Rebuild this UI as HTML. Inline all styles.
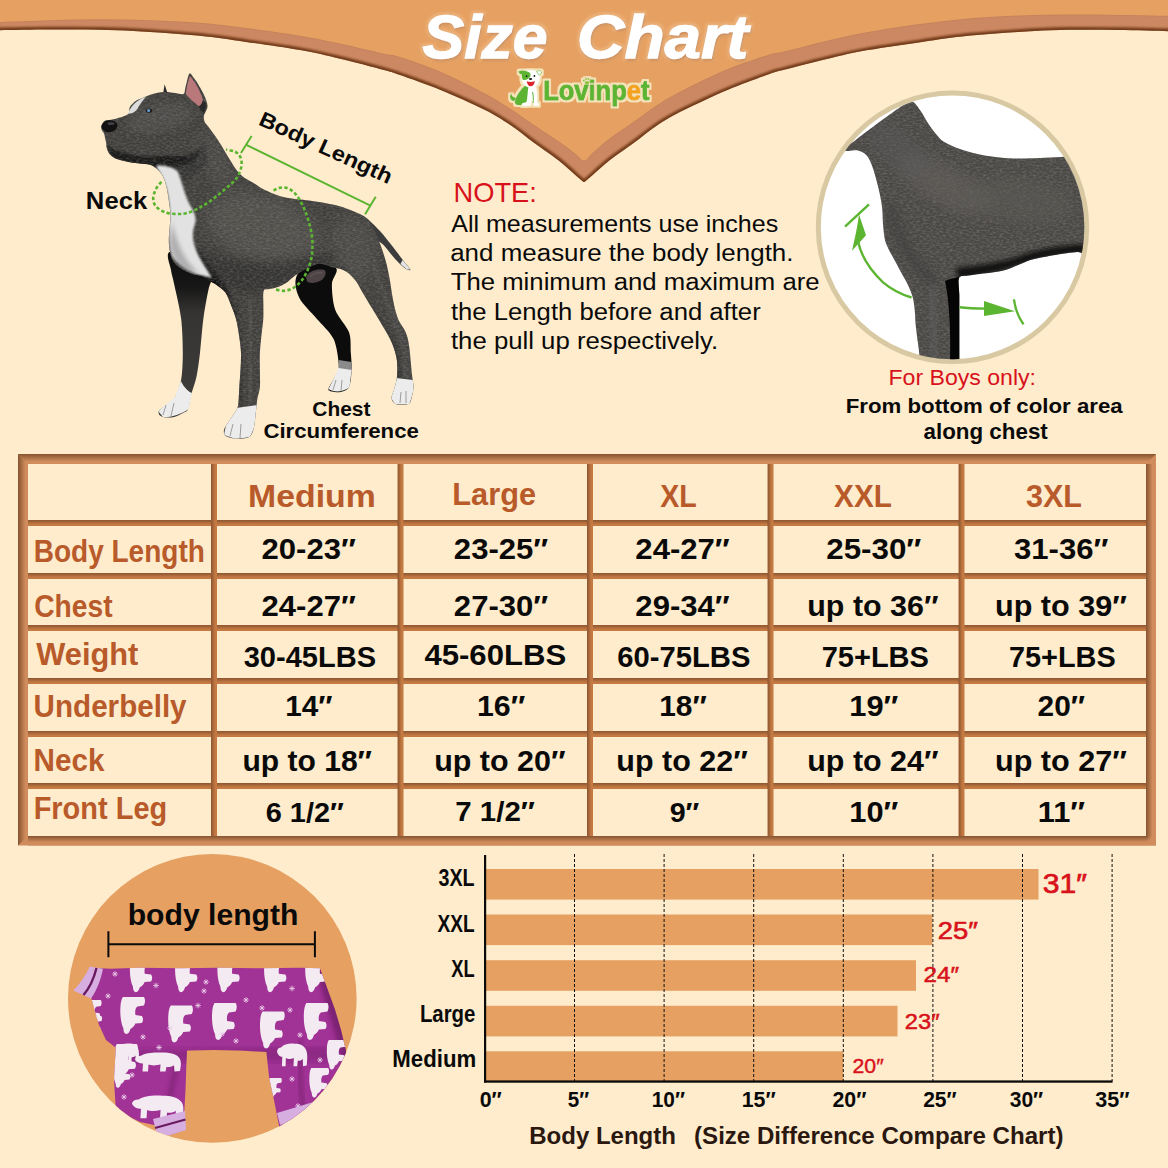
<!DOCTYPE html>
<html><head><meta charset="utf-8"><title>Size Chart</title>
<style>
html,body{margin:0;padding:0;background:#feeccc;}
body{width:1168px;height:1168px;overflow:hidden;font-family:"Liberation Sans",sans-serif;}
svg{display:block;}
text{font-family:"Liberation Sans",sans-serif;}
</style></head><body>
<svg width="1168" height="1168" viewBox="0 0 1168 1168">
<rect width="1168" height="1168" fill="#feeccc"/>

<defs>
<filter id="bandsh" x="-5%" y="-20%" width="110%" height="150%"><feDropShadow dx="0" dy="1.2" stdDeviation="1.4" flood-color="#7a4a2a" flood-opacity=".55"/></filter>
<filter id="b12" x="-5%" y="-20%" width="110%" height="140%"><feGaussianBlur stdDeviation="1.3"/></filter>
<filter id="orsh" x="-5%" y="-20%" width="110%" height="150%"><feDropShadow dx="0" dy="0.6" stdDeviation="0.7" flood-color="#a86a40" flood-opacity=".35"/></filter>
<linearGradient id="gTop" x1="0" y1="0" x2="0" y2="1"><stop offset="0" stop-color="#85542f"/><stop offset=".75" stop-color="#d08c5c"/></linearGradient>
<linearGradient id="gLeft" x1="0" y1="0" x2="1" y2="0"><stop offset="0" stop-color="#85542f"/><stop offset=".75" stop-color="#d08c5c"/></linearGradient>
<linearGradient id="gRight" x1="0" y1="0" x2="1" y2="0"><stop offset="0" stop-color="#875430"/><stop offset=".65" stop-color="#d08c5c"/></linearGradient>
<linearGradient id="gBottom" x1="0" y1="0" x2="0" y2="1"><stop offset="0" stop-color="#875430"/><stop offset=".65" stop-color="#d08c5c"/></linearGradient>
<linearGradient id="gH" x1="0" y1="0" x2="0" y2="1"><stop offset="0" stop-color="#8c5430"/><stop offset=".7" stop-color="#c47a42"/></linearGradient>
<linearGradient id="gV" x1="0" y1="0" x2="1" y2="0"><stop offset="0" stop-color="#8c5430"/><stop offset=".7" stop-color="#c47a42"/></linearGradient>
<radialGradient id="gCorner" cx="1146" cy="836" r="9" gradientUnits="userSpaceOnUse"><stop offset="0" stop-color="#8a5632"/><stop offset=".65" stop-color="#d08c5c"/></radialGradient>
</defs>


<clipPath id="bandclip"><path d="M-10.0 30.3 C-8.3 30.3 -10.0 30.3 0.0 30.2 C10.0 30.1 33.3 29.7 50.0 29.6 C66.7 29.5 83.3 29.4 100.0 29.8 C116.7 30.2 133.3 30.9 150.0 31.9 C166.7 32.9 184.0 34.1 200.0 35.8 C216.0 37.5 229.3 39.5 246.0 41.9 C262.7 44.3 284.3 47.3 300.0 50.1 C315.7 52.9 326.0 55.4 340.0 58.7 C354.0 62.0 374.0 67.3 384.0 70.0 C394.0 72.7 390.7 71.7 400.0 75.0 C409.3 78.3 426.0 84.0 440.0 89.7 C454.0 95.4 472.3 103.6 484.0 109.4 C495.7 115.2 501.7 119.2 510.0 124.7 C518.3 130.2 525.8 136.7 534.0 142.7 C542.2 148.7 552.2 155.4 559.0 160.7 C565.8 166.0 570.9 171.1 575.0 174.7 C579.1 178.3 582.2 180.9 583.6 182.1 L584.4 182.1 C585.8 180.9 588.9 178.3 593.0 174.7 C597.1 171.1 602.2 166.0 609.0 160.7 C615.8 155.4 625.8 148.7 634.0 142.7 C642.2 136.7 649.7 130.2 658.0 124.7 C666.3 119.2 672.3 115.8 684.0 110.0 C695.7 104.2 714.0 95.6 728.0 89.7 C742.0 83.8 758.7 77.8 768.0 74.5 C777.3 71.2 774.0 72.4 784.0 69.8 C794.0 67.2 814.0 62.0 828.0 58.7 C842.0 55.4 852.3 52.9 868.0 50.1 C883.7 47.3 905.3 44.3 922.0 41.9 C938.7 39.5 952.0 37.5 968.0 35.8 C984.0 34.1 1001.3 32.9 1018.0 31.9 C1034.7 30.9 1051.3 30.1 1068.0 29.8 C1084.7 29.5 1101.3 29.8 1118.0 30.0 C1134.7 30.2 1158.0 31.0 1168.0 31.2 C1178.0 31.4 1176.3 31.4 1178.0 31.4 L1178 -10 L-10 -10 Z"/></clipPath>
<path d="M-10.0 30.3 C-8.3 30.3 -10.0 30.3 0.0 30.2 C10.0 30.1 33.3 29.7 50.0 29.6 C66.7 29.5 83.3 29.4 100.0 29.8 C116.7 30.2 133.3 30.9 150.0 31.9 C166.7 32.9 184.0 34.1 200.0 35.8 C216.0 37.5 229.3 39.5 246.0 41.9 C262.7 44.3 284.3 47.3 300.0 50.1 C315.7 52.9 326.0 55.4 340.0 58.7 C354.0 62.0 374.0 67.3 384.0 70.0 C394.0 72.7 390.7 71.7 400.0 75.0 C409.3 78.3 426.0 84.0 440.0 89.7 C454.0 95.4 472.3 103.6 484.0 109.4 C495.7 115.2 501.7 119.2 510.0 124.7 C518.3 130.2 525.8 136.7 534.0 142.7 C542.2 148.7 552.2 155.4 559.0 160.7 C565.8 166.0 570.9 171.1 575.0 174.7 C579.1 178.3 582.2 180.9 583.6 182.1 L584.4 182.1 C585.8 180.9 588.9 178.3 593.0 174.7 C597.1 171.1 602.2 166.0 609.0 160.7 C615.8 155.4 625.8 148.7 634.0 142.7 C642.2 136.7 649.7 130.2 658.0 124.7 C666.3 119.2 672.3 115.8 684.0 110.0 C695.7 104.2 714.0 95.6 728.0 89.7 C742.0 83.8 758.7 77.8 768.0 74.5 C777.3 71.2 774.0 72.4 784.0 69.8 C794.0 67.2 814.0 62.0 828.0 58.7 C842.0 55.4 852.3 52.9 868.0 50.1 C883.7 47.3 905.3 44.3 922.0 41.9 C938.7 39.5 952.0 37.5 968.0 35.8 C984.0 34.1 1001.3 32.9 1018.0 31.9 C1034.7 30.9 1051.3 30.1 1068.0 29.8 C1084.7 29.5 1101.3 29.8 1118.0 30.0 C1134.7 30.2 1158.0 31.0 1168.0 31.2 C1178.0 31.4 1176.3 31.4 1178.0 31.4 L1178 -10 L-10 -10 Z" fill="#cc8862"/>
<g clip-path="url(#bandclip)"><path d="M-10.0 30.3 C-8.3 30.3 -10.0 30.3 0.0 30.2 C10.0 30.1 33.3 29.7 50.0 29.6 C66.7 29.5 83.3 29.4 100.0 29.8 C116.7 30.2 133.3 30.9 150.0 31.9 C166.7 32.9 184.0 34.1 200.0 35.8 C216.0 37.5 229.3 39.5 246.0 41.9 C262.7 44.3 284.3 47.3 300.0 50.1 C315.7 52.9 326.0 55.4 340.0 58.7 C354.0 62.0 374.0 67.3 384.0 70.0 C394.0 72.7 390.7 71.7 400.0 75.0 C409.3 78.3 426.0 84.0 440.0 89.7 C454.0 95.4 472.3 103.6 484.0 109.4 C495.7 115.2 501.7 119.2 510.0 124.7 C518.3 130.2 525.8 136.7 534.0 142.7 C542.2 148.7 552.2 155.4 559.0 160.7 C565.8 166.0 570.9 171.1 575.0 174.7 C579.1 178.3 582.2 180.9 583.6 182.1 L584.4 182.1 C585.8 180.9 588.9 178.3 593.0 174.7 C597.1 171.1 602.2 166.0 609.0 160.7 C615.8 155.4 625.8 148.7 634.0 142.7 C642.2 136.7 649.7 130.2 658.0 124.7 C666.3 119.2 672.3 115.8 684.0 110.0 C695.7 104.2 714.0 95.6 728.0 89.7 C742.0 83.8 758.7 77.8 768.0 74.5 C777.3 71.2 774.0 72.4 784.0 69.8 C794.0 67.2 814.0 62.0 828.0 58.7 C842.0 55.4 852.3 52.9 868.0 50.1 C883.7 47.3 905.3 44.3 922.0 41.9 C938.7 39.5 952.0 37.5 968.0 35.8 C984.0 34.1 1001.3 32.9 1018.0 31.9 C1034.7 30.9 1051.3 30.1 1068.0 29.8 C1084.7 29.5 1101.3 29.8 1118.0 30.0 C1134.7 30.2 1158.0 31.0 1168.0 31.2 C1178.0 31.4 1176.3 31.4 1178.0 31.4" fill="none" stroke="#6e3819" stroke-width="5.5" filter="url(#b12)" opacity=".95"/></g>
<g filter="url(#orsh)"><path d="M-10.0 22.2 C-8.3 22.1 -10.0 22.2 0.0 21.9 C10.0 21.6 33.3 20.6 50.0 20.2 C66.7 19.8 83.3 19.2 100.0 19.2 C116.7 19.2 133.3 19.7 150.0 20.3 C166.7 20.9 184.0 21.5 200.0 22.8 C216.0 24.1 229.3 25.9 246.0 28.0 C262.7 30.1 284.3 33.1 300.0 35.7 C315.7 38.3 326.0 40.5 340.0 43.5 C354.0 46.5 374.0 51.5 384.0 53.7 C394.0 56.0 390.7 54.0 400.0 57.0 C409.3 60.0 426.0 65.5 440.0 71.5 C454.0 77.5 472.3 86.8 484.0 93.0 C495.7 99.2 501.7 103.2 510.0 108.5 C518.3 113.8 525.8 119.5 534.0 125.0 C542.2 130.5 552.2 136.8 559.0 141.5 C565.8 146.2 571.2 150.4 575.0 153.5 C578.8 156.6 580.8 159.1 582.0 160.2 L586.0 160.2 C587.2 158.9 589.2 156.0 593.0 152.5 C596.8 149.0 602.2 144.2 609.0 139.0 C615.8 133.8 625.8 127.2 634.0 121.5 C642.2 115.8 649.7 109.8 658.0 104.5 C666.3 99.2 672.3 95.6 684.0 89.7 C695.7 83.8 714.0 74.8 728.0 69.0 C742.0 63.2 758.7 57.9 768.0 55.0 C777.3 52.1 774.0 54.0 784.0 51.6 C794.0 49.2 814.0 43.8 828.0 40.5 C842.0 37.2 852.7 34.8 868.0 32.0 C883.3 29.2 903.3 26.2 920.0 24.0 C936.7 21.8 951.7 19.9 968.0 18.5 C984.3 17.1 1001.3 16.2 1018.0 15.6 C1034.7 14.9 1051.3 14.7 1068.0 14.6 C1084.7 14.5 1101.3 14.7 1118.0 14.9 C1134.7 15.1 1158.0 15.6 1168.0 15.8 C1178.0 16.0 1176.3 16.0 1178.0 16.0 L1178 -10 L-10 -10 Z" fill="#e6a162"/></g>

<rect x="18" y="454" width="1138" height="391.5" fill="#d08c5c"/>
<path d="M18 454 L1156 454 L1146 464 L28 464 Z" fill="url(#gTop)"/>
<path d="M18 454 L28 464 L28 836 L18 845.5 Z" fill="url(#gLeft)"/>
<rect x="28" y="464" width="1118" height="372" fill="#c27a44"/>
<rect x="1146" y="464" width="10" height="372" fill="url(#gRight)"/>
<rect x="28" y="836" width="1118" height="9.5" fill="url(#gBottom)"/>
<rect x="1146" y="836" width="10" height="9.5" fill="url(#gCorner)"/>
<rect x="28" y="520.0" width="1118" height="6.0" fill="url(#gH)"/>
<rect x="28" y="573.0" width="1118" height="6.0" fill="url(#gH)"/>
<rect x="28" y="625.0" width="1118" height="6.0" fill="url(#gH)"/>
<rect x="28" y="678.0" width="1118" height="6.0" fill="url(#gH)"/>
<rect x="28" y="731.0" width="1118" height="6.0" fill="url(#gH)"/>
<rect x="28" y="783.0" width="1118" height="6.0" fill="url(#gH)"/>
<rect x="211.0" y="464" width="6.0" height="372" fill="url(#gV)"/>
<rect x="397.5" y="464" width="6.0" height="372" fill="url(#gV)"/>
<rect x="587.0" y="464" width="6.0" height="372" fill="url(#gV)"/>
<rect x="767.5" y="464" width="6.0" height="372" fill="url(#gV)"/>
<rect x="958.5" y="464" width="6.0" height="372" fill="url(#gV)"/>
<rect x="28.0" y="464.0" width="183.0" height="56.0" fill="#feeccc"/>
<rect x="217.0" y="464.0" width="180.5" height="56.0" fill="#feeccc"/>
<rect x="403.5" y="464.0" width="183.5" height="56.0" fill="#feeccc"/>
<rect x="593.0" y="464.0" width="174.5" height="56.0" fill="#feeccc"/>
<rect x="773.5" y="464.0" width="185.0" height="56.0" fill="#feeccc"/>
<rect x="964.5" y="464.0" width="181.5" height="56.0" fill="#feeccc"/>
<rect x="28.0" y="526.0" width="183.0" height="47.0" fill="#feeccc"/>
<rect x="217.0" y="526.0" width="180.5" height="47.0" fill="#feeccc"/>
<rect x="403.5" y="526.0" width="183.5" height="47.0" fill="#feeccc"/>
<rect x="593.0" y="526.0" width="174.5" height="47.0" fill="#feeccc"/>
<rect x="773.5" y="526.0" width="185.0" height="47.0" fill="#feeccc"/>
<rect x="964.5" y="526.0" width="181.5" height="47.0" fill="#feeccc"/>
<rect x="28.0" y="579.0" width="183.0" height="46.0" fill="#feeccc"/>
<rect x="217.0" y="579.0" width="180.5" height="46.0" fill="#feeccc"/>
<rect x="403.5" y="579.0" width="183.5" height="46.0" fill="#feeccc"/>
<rect x="593.0" y="579.0" width="174.5" height="46.0" fill="#feeccc"/>
<rect x="773.5" y="579.0" width="185.0" height="46.0" fill="#feeccc"/>
<rect x="964.5" y="579.0" width="181.5" height="46.0" fill="#feeccc"/>
<rect x="28.0" y="631.0" width="183.0" height="47.0" fill="#feeccc"/>
<rect x="217.0" y="631.0" width="180.5" height="47.0" fill="#feeccc"/>
<rect x="403.5" y="631.0" width="183.5" height="47.0" fill="#feeccc"/>
<rect x="593.0" y="631.0" width="174.5" height="47.0" fill="#feeccc"/>
<rect x="773.5" y="631.0" width="185.0" height="47.0" fill="#feeccc"/>
<rect x="964.5" y="631.0" width="181.5" height="47.0" fill="#feeccc"/>
<rect x="28.0" y="684.0" width="183.0" height="47.0" fill="#feeccc"/>
<rect x="217.0" y="684.0" width="180.5" height="47.0" fill="#feeccc"/>
<rect x="403.5" y="684.0" width="183.5" height="47.0" fill="#feeccc"/>
<rect x="593.0" y="684.0" width="174.5" height="47.0" fill="#feeccc"/>
<rect x="773.5" y="684.0" width="185.0" height="47.0" fill="#feeccc"/>
<rect x="964.5" y="684.0" width="181.5" height="47.0" fill="#feeccc"/>
<rect x="28.0" y="737.0" width="183.0" height="46.0" fill="#feeccc"/>
<rect x="217.0" y="737.0" width="180.5" height="46.0" fill="#feeccc"/>
<rect x="403.5" y="737.0" width="183.5" height="46.0" fill="#feeccc"/>
<rect x="593.0" y="737.0" width="174.5" height="46.0" fill="#feeccc"/>
<rect x="773.5" y="737.0" width="185.0" height="46.0" fill="#feeccc"/>
<rect x="964.5" y="737.0" width="181.5" height="46.0" fill="#feeccc"/>
<rect x="28.0" y="789.0" width="183.0" height="47.0" fill="#feeccc"/>
<rect x="217.0" y="789.0" width="180.5" height="47.0" fill="#feeccc"/>
<rect x="403.5" y="789.0" width="183.5" height="47.0" fill="#feeccc"/>
<rect x="593.0" y="789.0" width="174.5" height="47.0" fill="#feeccc"/>
<rect x="773.5" y="789.0" width="185.0" height="47.0" fill="#feeccc"/>
<rect x="964.5" y="789.0" width="181.5" height="47.0" fill="#feeccc"/>
<rect x="486" y="869.0" width="552.5" height="30.6" fill="#e6a162"/>
<rect x="486" y="914.5" width="446.4" height="30.6" fill="#e6a162"/>
<rect x="486" y="960.2" width="430.0" height="30.6" fill="#e6a162"/>
<rect x="486" y="1005.8" width="411.5" height="30.6" fill="#e6a162"/>
<rect x="486" y="1051.3" width="357.3" height="30.6" fill="#e6a162"/>
<line x1="574.5" y1="854" x2="574.5" y2="1081" stroke="#111" stroke-width="1" stroke-dasharray="3 2"/>
<line x1="664.1" y1="854" x2="664.1" y2="1081" stroke="#111" stroke-width="1" stroke-dasharray="3 2"/>
<line x1="753.7" y1="854" x2="753.7" y2="1081" stroke="#111" stroke-width="1" stroke-dasharray="3 2"/>
<line x1="843.3" y1="854" x2="843.3" y2="1081" stroke="#111" stroke-width="1" stroke-dasharray="3 2"/>
<line x1="932.9" y1="854" x2="932.9" y2="1081" stroke="#111" stroke-width="1" stroke-dasharray="3 2"/>
<line x1="1022.5" y1="854" x2="1022.5" y2="1081" stroke="#111" stroke-width="1" stroke-dasharray="3 2"/>
<line x1="1112.1" y1="854" x2="1112.1" y2="1081" stroke="#111" stroke-width="1" stroke-dasharray="3 2"/>
<rect x="484" y="855" width="2.2" height="227.5" fill="#0a0a0a"/>
<rect x="484" y="1080.4" width="628.6" height="2.3" fill="#0a0a0a"/>

<defs>
<linearGradient id="ffleg" x1="0" y1="250" x2="0" y2="400" gradientUnits="userSpaceOnUse"><stop offset="0" stop-color="#0d0d0d"/><stop offset=".24" stop-color="#161616"/><stop offset=".42" stop-color="#353432"/><stop offset="1" stop-color="#3d3c3a"/></linearGradient>
<filter id="fur" x="0" y="0" width="100%" height="100%">
  <feTurbulence type="fractalNoise" baseFrequency="0.3 0.6" numOctaves="3" seed="7" result="n"/>
  <feColorMatrix in="n" type="matrix" values="0 0 0 0 0.46  0 0 0 0 0.45  0 0 0 0 0.43  1.5 0 0 0 -0.55" result="c"/>
  <feGaussianBlur in="c" stdDeviation="0.45"/>
</filter>
<filter id="blur1"><feGaussianBlur stdDeviation="0.8"/></filter>
<filter id="blur2"><feGaussianBlur stdDeviation="2"/></filter>
<filter id="blur4"><feGaussianBlur stdDeviation="4"/></filter>
<filter id="blur6"><feGaussianBlur stdDeviation="7"/></filter>
<filter id="titlesh" x="-5%" y="-20%" width="110%" height="150%">
  <feGaussianBlur in="SourceAlpha" stdDeviation="1.6" result="b"/>
  <feOffset in="b" dx="0.8" dy="2" result="o"/>
  <feFlood flood-color="#b06a35" flood-opacity=".6"/><feComposite in2="o" operator="in" result="sh"/>
  <feMorphology in="SourceAlpha" operator="dilate" radius="1.6" result="dil"/>
  <feGaussianBlur in="dil" stdDeviation="1.2" result="dilb"/>
  <feFlood flood-color="#f0c090" flood-opacity=".55"/><feComposite in2="dilb" operator="in" result="glow"/>
  <feMerge><feMergeNode in="glow"/><feMergeNode in="sh"/><feMergeNode in="SourceGraphic"/></feMerge>
</filter>
<filter id="halo" x="-10%" y="-20%" width="120%" height="140%">
  <feMorphology in="SourceAlpha" operator="dilate" radius="2" result="dil"/>
  <feGaussianBlur in="dil" stdDeviation="0.6" result="dilb"/>
  <feFlood flood-color="#f3e3b8" flood-opacity="1"/><feComposite in2="dilb" operator="in" result="glow"/>
  <feMerge><feMergeNode in="glow"/><feMergeNode in="SourceGraphic"/></feMerge>
</filter>
</defs>


<g font-family="Liberation Sans, sans-serif" font-weight="bold" font-style="italic" font-size="61.5" filter="url(#titlesh)" stroke="#ffffff" stroke-width="1.3" stroke-linejoin="round">
<text x="422.6" y="58.4" fill="#ffffff" textLength="125" lengthAdjust="spacingAndGlyphs">Size</text>
<text x="577" y="58.4" fill="#ffffff" textLength="171.5" lengthAdjust="spacingAndGlyphs">Chart</text>
</g>

<g filter="url(#halo)">
<path d="M516 98 C513 97 511 95.5 511.5 93.5 C509.5 95 509.5 98.5 512 100.5 C513.5 101.5 515.5 101 516 98 Z" fill="#5cb531"/>
<path d="M526 85 C521 89 516.5 95 515 101 C514.5 103 515.5 105 518 105 L530 105 C531 99 531 91 530.5 86 Z" fill="#5cb531"/>
<path d="M528.5 86 C527.5 92 527.5 98 526.5 102 L522 103.5 C521 105 522 106 524 106 L531 105.5 L531.5 100 L534 105.8 L538.5 105.8 C539.5 104.5 538.5 103 537 102.5 C537.5 96 537 90 535.5 86 Z" fill="#ffffff"/>
<path d="M532.5 92 C533.5 96 533.5 100 533 103" stroke="#5cb531" stroke-width="1" fill="none"/>
<path d="M521.5 75.5 C523 71.5 527 70 531 70.3 C535 70.3 538.5 71.5 539.5 75 C540.5 79 539 83.5 536 86 C533 88 528.5 88 525.5 86 C522.5 83.5 521 79.5 521.5 75.5 Z" fill="#ffffff"/>
<path d="M518.5 71.5 C521 70 524.5 70.5 527 71.5 C529.5 72 531 73.5 530.5 76 C529 79 526 80.5 523 80 C521.5 78 521.5 76 522 74.5 C520.5 74.5 519 73.5 518.5 71.5 Z" fill="#5cb531"/>
<path d="M536.5 71.5 C538.5 70.3 540.5 70.5 541.5 72 C541.3 73.8 540 74.8 538.8 75 Z" fill="#ffffff" stroke="#5cb531" stroke-width=".6"/>
<circle cx="526.6" cy="76.2" r=".9" fill="#1a1a1a"/><circle cx="534.4" cy="76" r=".9" fill="#1a1a1a"/>
<ellipse cx="530.6" cy="79" rx="1.6" ry="1.1" fill="#1a1a1a"/>
<path d="M526.8 81.2 C529 82.2 532.5 82.2 534.8 81 C534.5 84.5 532.5 86.2 530.8 86.2 C528.8 86.2 527 84.2 526.8 81.2 Z" fill="#d9202a"/>
</g>
<g filter="url(#halo)">
<text x="543.2" y="100.4" font-family="Liberation Sans, sans-serif" font-weight="bold" font-size="26.8" textLength="106.2" lengthAdjust="spacingAndGlyphs" stroke-width="0.9" stroke-linejoin="round"><tspan fill="#5cb531" stroke="#5cb531">Lovinp</tspan><tspan fill="#f3a31f" stroke="#f3a31f">e</tspan><tspan fill="#5cb531" stroke="#5cb531">t</tspan></text>
<ellipse cx="587" cy="82.8" rx="2.3" ry="1.8" fill="#8cc63f"/><circle cx="583.9" cy="80.5" r="1" fill="#8cc63f"/><circle cx="586" cy="79" r="1" fill="#8cc63f"/><circle cx="588.4" cy="79" r="1" fill="#8cc63f"/><circle cx="590.4" cy="80.6" r="1" fill="#8cc63f"/>
</g>
<path d="M169.5 252.0 C165.2 254.2 170.3 265.2 171.0 270.0 C171.7 274.8 172.7 276.9 174.2 284.2 C175.7 291.5 179.8 308.2 181.1 318.5 C182.4 328.8 182.8 343.5 182.8 352.7 C182.8 361.9 182.4 373.2 181.1 380.1 C179.8 387.0 176.6 395.1 174.2 399.0 C171.8 402.9 167.3 404.2 165.0 406.0 C162.7 407.8 159.6 409.6 158.8 411.0 C158.1 412.4 158.9 414.5 160.0 415.5 C161.1 416.5 163.9 417.3 166.0 417.5 C168.1 417.7 171.6 417.7 174.2 417.0 C176.8 416.3 180.9 414.2 183.0 413.0 C185.1 411.8 186.6 412.1 187.9 409.2 C189.2 406.3 190.1 398.7 191.4 393.8 C192.7 388.9 195.2 382.9 196.5 376.7 C197.8 370.5 199.0 361.4 200.0 352.7 C201.0 344.0 202.1 328.0 203.4 318.5 C204.7 309.0 206.9 296.7 208.5 289.4 C210.1 282.1 215.3 275.2 214.0 270.0 C212.7 264.8 206.7 257.7 200.0 255.0 C193.3 252.3 173.8 249.8 169.5 252.0 Z" fill="url(#ffleg)"/>
<path d="M296.0 278.0 C294.4 283.4 296.3 291.9 299.4 298.0 C302.5 304.1 311.4 312.4 316.5 318.5 C321.6 324.6 330.3 332.1 333.6 339.0 C336.9 345.9 338.4 359.3 338.8 364.7 C339.2 370.1 337.5 371.4 336.0 375.0 C334.5 378.6 329.1 386.2 328.5 388.7 C327.9 391.2 330.2 391.0 332.0 391.5 C333.8 392.0 337.9 392.8 340.5 392.1 C343.1 391.4 347.3 390.3 349.0 387.0 C350.7 383.7 351.3 375.0 351.6 369.9 C351.9 364.8 351.2 358.4 350.8 352.7 C350.4 347.0 351.3 338.6 349.0 332.2 C346.7 325.8 337.9 317.1 335.3 309.9 C332.7 302.7 331.8 290.5 331.9 284.2 C332.0 277.9 339.3 271.3 336.0 268.0 C332.7 264.7 316.0 260.5 310.0 262.0 C304.0 263.5 297.6 272.6 296.0 278.0 Z" fill="#0c0c0c"/>
<path d="M366.0 218.0 C366.5 217.1 376.4 227.1 380.0 231.0 C383.6 234.9 389.8 242.9 393.0 247.0 C396.2 251.1 401.7 258.5 404.0 261.5 C406.3 264.5 410.1 268.4 410.5 269.5 C410.9 270.6 408.3 270.1 407.0 269.5 C405.7 268.9 402.9 266.7 401.0 265.0 C399.1 263.3 395.3 259.1 393.0 256.5 C390.7 253.9 386.3 248.0 384.0 245.5 C381.7 243.0 378.4 241.7 376.0 238.0 C373.6 234.3 365.5 218.9 366.0 218.0 Z" fill="#3c3c3d"/>
<path d="M402.5 260 L410.5 269.5 L407 269.5 L400.5 264 Z" fill="#e4e4e4"/>
<path d="M101.2 126.5 C101.5 125.1 102.7 123.0 103.5 122.0 C104.3 121.0 104.6 120.8 106.3 120.3 C108.0 119.8 109.9 120.3 113.5 119.3 C117.1 118.3 125.2 116.2 127.9 114.2 C130.6 112.2 128.5 109.2 129.9 107.0 C131.3 104.8 133.7 102.4 136.1 100.8 C138.5 99.2 140.9 98.5 144.3 97.2 C147.7 95.9 153.0 93.9 156.6 93.1 C160.2 92.2 162.9 92.1 166.0 92.1 C169.1 92.1 172.2 92.8 175.1 93.1 C178.0 93.4 181.7 95.0 183.4 94.1 C185.1 93.2 184.7 90.0 185.4 87.5 C186.1 85.0 186.8 81.4 187.5 79.0 C188.2 76.6 188.8 73.5 189.8 73.3 C190.8 73.0 192.2 75.8 193.5 77.5 C194.8 79.2 195.8 80.2 197.7 83.4 C199.6 86.6 203.3 92.9 204.9 96.7 C206.5 100.5 207.4 103.5 207.5 106.0 C207.6 108.5 206.1 110.3 205.5 112.0 C204.9 113.7 204.1 114.4 203.9 116.0 C203.7 117.6 203.8 119.7 204.5 121.4 C205.2 123.2 206.4 124.1 208.2 126.5 C209.9 128.9 213.0 133.0 215.0 135.8 C217.0 138.7 217.6 139.6 220.1 143.6 C222.6 147.6 227.1 155.4 230.0 160.0 C232.9 164.6 235.0 168.1 237.3 171.0 C239.6 173.9 241.4 175.6 244.0 177.5 C246.6 179.4 249.7 180.7 252.7 182.5 C255.7 184.3 258.4 186.6 262.0 188.5 C265.6 190.4 269.9 192.4 274.0 194.0 C278.1 195.6 282.2 196.9 286.5 197.8 C290.8 198.7 295.7 199.1 300.0 199.6 C304.3 200.1 307.9 200.4 312.2 201.0 C316.5 201.6 321.4 202.3 326.0 203.2 C330.6 204.1 334.9 204.8 339.6 206.2 C344.3 207.6 349.4 209.4 354.0 211.5 C358.6 213.6 363.5 215.1 367.0 218.5 C370.5 221.9 372.8 227.6 375.0 232.0 C377.2 236.4 378.7 240.0 380.5 245.0 C382.3 250.0 384.5 256.5 386.0 262.0 C387.5 267.5 388.5 272.9 389.5 278.0 C390.5 283.1 391.0 288.0 391.8 292.8 C392.6 297.6 393.4 302.5 394.5 307.0 C395.6 311.5 396.9 316.3 398.5 320.0 C400.1 323.7 402.5 326.1 404.0 329.0 C405.5 331.9 406.6 334.2 407.5 337.5 C408.4 340.8 409.0 345.0 409.5 349.0 C410.0 353.0 410.3 357.0 410.7 361.3 C411.1 365.6 411.5 370.7 412.0 375.0 C412.5 379.3 413.5 383.5 413.5 387.0 C413.5 390.5 412.7 393.2 412.0 396.0 C411.3 398.8 411.0 402.1 409.3 403.5 C407.6 404.9 404.3 404.4 402.0 404.5 C399.7 404.6 397.1 404.9 395.3 403.8 C393.6 402.7 391.6 400.6 391.5 398.0 C391.4 395.4 393.6 391.6 394.5 388.0 C395.4 384.4 396.6 381.1 397.0 376.7 C397.4 372.2 397.4 365.8 397.0 361.3 C396.6 356.9 395.6 353.7 394.5 350.0 C393.4 346.3 391.8 342.5 390.1 339.0 C388.4 335.5 386.5 332.4 384.5 329.0 C382.5 325.6 380.6 322.5 378.2 318.5 C375.8 314.5 372.6 309.3 370.0 305.0 C367.4 300.7 365.1 296.8 362.7 292.8 C360.3 288.8 358.5 284.5 355.9 281.0 C353.3 277.5 349.8 274.1 347.0 272.0 C344.2 269.9 341.4 269.2 339.0 268.5 C336.6 267.8 334.9 268.1 332.7 267.5 C330.5 266.9 328.3 265.6 326.0 265.0 C323.7 264.4 322.0 263.3 319.0 263.8 C316.0 264.3 312.0 266.1 308.0 268.0 C304.0 269.9 298.8 273.0 295.1 275.5 C291.4 278.0 289.0 281.1 286.0 283.0 C283.0 284.9 280.0 286.2 277.0 287.2 C274.0 288.2 270.2 288.6 268.0 289.2 C265.8 289.8 264.4 288.4 263.6 291.0 C262.8 293.6 263.4 300.4 263.4 305.0 C263.3 309.6 263.6 313.5 263.3 318.5 C263.0 323.5 262.1 329.3 261.5 335.0 C260.9 340.7 260.2 346.9 259.9 352.7 C259.6 358.5 259.9 364.3 259.9 370.0 C259.9 375.7 260.3 382.3 259.9 387.0 C259.5 391.7 258.1 394.6 257.5 398.0 C256.9 401.4 256.7 404.7 256.4 407.5 C256.1 410.3 255.8 412.4 255.5 415.0 C255.2 417.6 255.1 420.3 254.7 423.0 C254.3 425.7 253.8 428.7 253.0 431.0 C252.2 433.3 251.3 435.6 249.6 436.8 C247.9 438.1 245.3 438.2 243.0 438.5 C240.7 438.8 238.2 438.8 235.9 438.6 C233.7 438.4 231.4 438.1 229.5 437.5 C227.6 436.9 225.5 436.1 224.6 434.9 C223.7 433.6 223.7 431.6 224.0 430.0 C224.3 428.4 225.1 427.3 226.5 425.0 C227.9 422.7 230.7 418.9 232.5 416.0 C234.3 413.1 236.5 410.7 237.6 407.5 C238.7 404.3 238.5 400.4 238.8 397.0 C239.1 393.6 239.0 391.5 239.3 387.0 C239.6 382.5 240.2 375.7 240.5 370.0 C240.8 364.3 241.2 358.5 241.0 352.7 C240.8 346.9 239.8 340.7 239.0 335.0 C238.2 329.3 237.2 323.5 235.9 318.5 C234.6 313.5 232.7 309.3 231.0 305.0 C229.3 300.7 227.8 296.0 225.6 292.8 C223.4 289.6 220.6 288.0 218.0 286.0 C215.4 284.0 212.5 282.6 210.0 281.0 C207.5 279.4 206.0 277.7 203.0 276.5 C200.0 275.3 195.8 275.4 192.0 274.0 C188.2 272.6 183.2 270.2 180.0 268.0 C176.8 265.8 174.7 263.7 173.0 261.0 C171.3 258.3 170.7 255.3 170.0 252.0 C169.3 248.7 168.9 245.2 168.8 241.2 C168.7 237.2 169.3 232.3 169.6 228.0 C169.9 223.7 170.6 219.8 170.5 215.5 C170.4 211.2 169.6 206.3 169.0 202.0 C168.4 197.7 167.8 193.6 167.1 189.9 C166.3 186.2 165.6 182.9 164.5 180.0 C163.4 177.1 162.1 174.8 160.5 172.7 C158.9 170.6 156.8 168.8 155.0 167.5 C153.2 166.2 152.4 165.5 149.9 164.8 C147.4 164.1 143.2 163.9 140.0 163.5 C136.8 163.1 134.0 163.0 131.0 162.5 C128.0 162.0 124.6 161.2 122.0 160.5 C119.4 159.8 117.4 159.3 115.5 158.4 C113.6 157.5 111.8 156.2 110.5 155.0 C109.2 153.8 108.7 152.8 108.0 151.5 C107.3 150.2 106.8 148.4 106.5 147.0 C106.2 145.6 106.5 144.5 106.3 143.0 C106.0 141.5 105.3 139.6 105.0 138.0 C104.7 136.4 104.7 134.9 104.2 133.7 C103.7 132.4 102.5 131.7 102.0 130.5 C101.5 129.3 101.0 127.9 101.2 126.5 Z" fill="#403f3c"/>
<path d="M163.3 92.6 L164.6 84.2 L167.3 92.4 Z" fill="#2c2c2c"/>
<clipPath id="dogclip"><path d="M101.2 126.5 C101.5 125.1 102.7 123.0 103.5 122.0 C104.3 121.0 104.6 120.8 106.3 120.3 C108.0 119.8 109.9 120.3 113.5 119.3 C117.1 118.3 125.2 116.2 127.9 114.2 C130.6 112.2 128.5 109.2 129.9 107.0 C131.3 104.8 133.7 102.4 136.1 100.8 C138.5 99.2 140.9 98.5 144.3 97.2 C147.7 95.9 153.0 93.9 156.6 93.1 C160.2 92.2 162.9 92.1 166.0 92.1 C169.1 92.1 172.2 92.8 175.1 93.1 C178.0 93.4 181.7 95.0 183.4 94.1 C185.1 93.2 184.7 90.0 185.4 87.5 C186.1 85.0 186.8 81.4 187.5 79.0 C188.2 76.6 188.8 73.5 189.8 73.3 C190.8 73.0 192.2 75.8 193.5 77.5 C194.8 79.2 195.8 80.2 197.7 83.4 C199.6 86.6 203.3 92.9 204.9 96.7 C206.5 100.5 207.4 103.5 207.5 106.0 C207.6 108.5 206.1 110.3 205.5 112.0 C204.9 113.7 204.1 114.4 203.9 116.0 C203.7 117.6 203.8 119.7 204.5 121.4 C205.2 123.2 206.4 124.1 208.2 126.5 C209.9 128.9 213.0 133.0 215.0 135.8 C217.0 138.7 217.6 139.6 220.1 143.6 C222.6 147.6 227.1 155.4 230.0 160.0 C232.9 164.6 235.0 168.1 237.3 171.0 C239.6 173.9 241.4 175.6 244.0 177.5 C246.6 179.4 249.7 180.7 252.7 182.5 C255.7 184.3 258.4 186.6 262.0 188.5 C265.6 190.4 269.9 192.4 274.0 194.0 C278.1 195.6 282.2 196.9 286.5 197.8 C290.8 198.7 295.7 199.1 300.0 199.6 C304.3 200.1 307.9 200.4 312.2 201.0 C316.5 201.6 321.4 202.3 326.0 203.2 C330.6 204.1 334.9 204.8 339.6 206.2 C344.3 207.6 349.4 209.4 354.0 211.5 C358.6 213.6 363.5 215.1 367.0 218.5 C370.5 221.9 372.8 227.6 375.0 232.0 C377.2 236.4 378.7 240.0 380.5 245.0 C382.3 250.0 384.5 256.5 386.0 262.0 C387.5 267.5 388.5 272.9 389.5 278.0 C390.5 283.1 391.0 288.0 391.8 292.8 C392.6 297.6 393.4 302.5 394.5 307.0 C395.6 311.5 396.9 316.3 398.5 320.0 C400.1 323.7 402.5 326.1 404.0 329.0 C405.5 331.9 406.6 334.2 407.5 337.5 C408.4 340.8 409.0 345.0 409.5 349.0 C410.0 353.0 410.3 357.0 410.7 361.3 C411.1 365.6 411.5 370.7 412.0 375.0 C412.5 379.3 413.5 383.5 413.5 387.0 C413.5 390.5 412.7 393.2 412.0 396.0 C411.3 398.8 411.0 402.1 409.3 403.5 C407.6 404.9 404.3 404.4 402.0 404.5 C399.7 404.6 397.1 404.9 395.3 403.8 C393.6 402.7 391.6 400.6 391.5 398.0 C391.4 395.4 393.6 391.6 394.5 388.0 C395.4 384.4 396.6 381.1 397.0 376.7 C397.4 372.2 397.4 365.8 397.0 361.3 C396.6 356.9 395.6 353.7 394.5 350.0 C393.4 346.3 391.8 342.5 390.1 339.0 C388.4 335.5 386.5 332.4 384.5 329.0 C382.5 325.6 380.6 322.5 378.2 318.5 C375.8 314.5 372.6 309.3 370.0 305.0 C367.4 300.7 365.1 296.8 362.7 292.8 C360.3 288.8 358.5 284.5 355.9 281.0 C353.3 277.5 349.8 274.1 347.0 272.0 C344.2 269.9 341.4 269.2 339.0 268.5 C336.6 267.8 334.9 268.1 332.7 267.5 C330.5 266.9 328.3 265.6 326.0 265.0 C323.7 264.4 322.0 263.3 319.0 263.8 C316.0 264.3 312.0 266.1 308.0 268.0 C304.0 269.9 298.8 273.0 295.1 275.5 C291.4 278.0 289.0 281.1 286.0 283.0 C283.0 284.9 280.0 286.2 277.0 287.2 C274.0 288.2 270.2 288.6 268.0 289.2 C265.8 289.8 264.4 288.4 263.6 291.0 C262.8 293.6 263.4 300.4 263.4 305.0 C263.3 309.6 263.6 313.5 263.3 318.5 C263.0 323.5 262.1 329.3 261.5 335.0 C260.9 340.7 260.2 346.9 259.9 352.7 C259.6 358.5 259.9 364.3 259.9 370.0 C259.9 375.7 260.3 382.3 259.9 387.0 C259.5 391.7 258.1 394.6 257.5 398.0 C256.9 401.4 256.7 404.7 256.4 407.5 C256.1 410.3 255.8 412.4 255.5 415.0 C255.2 417.6 255.1 420.3 254.7 423.0 C254.3 425.7 253.8 428.7 253.0 431.0 C252.2 433.3 251.3 435.6 249.6 436.8 C247.9 438.1 245.3 438.2 243.0 438.5 C240.7 438.8 238.2 438.8 235.9 438.6 C233.7 438.4 231.4 438.1 229.5 437.5 C227.6 436.9 225.5 436.1 224.6 434.9 C223.7 433.6 223.7 431.6 224.0 430.0 C224.3 428.4 225.1 427.3 226.5 425.0 C227.9 422.7 230.7 418.9 232.5 416.0 C234.3 413.1 236.5 410.7 237.6 407.5 C238.7 404.3 238.5 400.4 238.8 397.0 C239.1 393.6 239.0 391.5 239.3 387.0 C239.6 382.5 240.2 375.7 240.5 370.0 C240.8 364.3 241.2 358.5 241.0 352.7 C240.8 346.9 239.8 340.7 239.0 335.0 C238.2 329.3 237.2 323.5 235.9 318.5 C234.6 313.5 232.7 309.3 231.0 305.0 C229.3 300.7 227.8 296.0 225.6 292.8 C223.4 289.6 220.6 288.0 218.0 286.0 C215.4 284.0 212.5 282.6 210.0 281.0 C207.5 279.4 206.0 277.7 203.0 276.5 C200.0 275.3 195.8 275.4 192.0 274.0 C188.2 272.6 183.2 270.2 180.0 268.0 C176.8 265.8 174.7 263.7 173.0 261.0 C171.3 258.3 170.7 255.3 170.0 252.0 C169.3 248.7 168.9 245.2 168.8 241.2 C168.7 237.2 169.3 232.3 169.6 228.0 C169.9 223.7 170.6 219.8 170.5 215.5 C170.4 211.2 169.6 206.3 169.0 202.0 C168.4 197.7 167.8 193.6 167.1 189.9 C166.3 186.2 165.6 182.9 164.5 180.0 C163.4 177.1 162.1 174.8 160.5 172.7 C158.9 170.6 156.8 168.8 155.0 167.5 C153.2 166.2 152.4 165.5 149.9 164.8 C147.4 164.1 143.2 163.9 140.0 163.5 C136.8 163.1 134.0 163.0 131.0 162.5 C128.0 162.0 124.6 161.2 122.0 160.5 C119.4 159.8 117.4 159.3 115.5 158.4 C113.6 157.5 111.8 156.2 110.5 155.0 C109.2 153.8 108.7 152.8 108.0 151.5 C107.3 150.2 106.8 148.4 106.5 147.0 C106.2 145.6 106.5 144.5 106.3 143.0 C106.0 141.5 105.3 139.6 105.0 138.0 C104.7 136.4 104.7 134.9 104.2 133.7 C103.7 132.4 102.5 131.7 102.0 130.5 C101.5 129.3 101.0 127.9 101.2 126.5 Z"/></clipPath>
<g clip-path="url(#dogclip)">
<ellipse cx="262" cy="228" rx="58" ry="34" fill="#5c5a56" opacity=".6" filter="url(#blur6)" transform="rotate(18 262 228)"/>
<ellipse cx="352" cy="250" rx="26" ry="34" fill="#595753" opacity=".5" filter="url(#blur6)"/>
<ellipse cx="215" cy="160" rx="14" ry="32" fill="#575552" opacity=".5" filter="url(#blur6)" transform="rotate(-28 215 160)"/>
<ellipse cx="160" cy="118" rx="34" ry="14" fill="#595754" opacity=".55" filter="url(#blur4)" transform="rotate(-12 160 118)"/>
<path d="M170 255 C190 278 215 292 262 292 L300 276 L336 268 L336 250 C300 262 240 270 200 250 Z" fill="#2a2a2b" opacity=".55" filter="url(#blur4)"/>
<path d="M196 250 C204 262 216 275 228 292 L236 318 L226 318 L214 290 L198 278 Z" fill="#0d0d0d" opacity=".9" filter="url(#blur2)"/>
<path d="M250 300 C252 330 252 370 249 405" stroke="#5a5a5a" stroke-width="5" fill="none" opacity=".5" filter="url(#blur2)"/>
<path d="M232 300 C240 330 243 370 241 410" stroke="#2e2e2e" stroke-width="6" fill="none" opacity=".6" filter="url(#blur2)"/>
<path d="M374 262 C382 290 394 320 404 345 L406 380" stroke="#575757" stroke-width="5" fill="none" opacity=".5" filter="url(#blur2)"/>
<path d="M340 268 C350 285 366 310 380 330 L393 350 L396 378" stroke="#252526" stroke-width="8" fill="none" opacity=".7" filter="url(#blur2)"/>
<path d="M106 143 C112 150 124 154 140 156 C156 157.5 168 155 180 156 C190 157 196 153 200 148 L196 160 C186 168 172 168 160 168 C146 166 126 164 112 158 Z" fill="#141414" opacity=".92" filter="url(#blur1)"/>
<path d="M160 165 C176 170 192 162 204 140 L208 160 C200 176 184 182 168 182 Z" fill="#2e2e2f" opacity=".6" filter="url(#blur2)"/>
<rect x="95" y="70" width="325" height="375" filter="url(#fur)" opacity=".36"/>
<path d="M157 165 C166 166 174 167 178 172 C182 182 185 196 190 205 C194 212 197 217 195 224 C192 232 192 240 196 250 C199 258 206 268 212 278 L196 274 C184 268 176 262 172 256 C168 244 169 226 170 212 C169 196 166 180 157 168 Z" fill="#e2e2e2" filter="url(#blur1)"/>
<path d="M172 222 C176 240 184 262 200 274 L186 270 C176 264 170 254 170 240 Z" fill="#9a9a9c" opacity=".7" filter="url(#blur2)"/>
<path d="M236 408 L257.5 405 L256 424 L250 437 L236 439 L224 435 L226 425 Z" fill="#ececec"/>
<path d="M396 378 L413 380 L414 390 L409.5 404 L395 404 L391 398 Z" fill="#ececec"/>
</g>
<path d="M181 381 C184 388 189 392 192 393 L188.5 409 C182 414 170 418 163 417 L158.5 411.5 C164 405 172 400 175 397 Z" fill="#ececec"/>
<path d="M338.5 367 L351.8 369 L349.5 387 C344 392 334 393 328.5 389 C332 382 336 375 338.5 367 Z" fill="#ececec"/>
<path d="M338.8 360 L351.5 362 L351.8 370 L338.5 368 Z" fill="#8a8a8a"/>
<path d="M166 405 L163 415 M174 403 L171 416 M233 424 L230 436 M241 424 L240 438 M401 392 L400 403 M406 391 L406 403 M336 380 L333 390 M342 380 L341 391" stroke="#9c9c9c" stroke-width="1" fill="none"/>
<path d="M185.8 94 C186.6 86 188.3 80 190 76 C195 82 200 90 203 100 C202.5 103.5 200.5 105.5 198.8 106.2 C193.5 102 188.5 98 185.8 94 Z" fill="#b9787a"/>
<path d="M198.8 106.2 C200.5 105.5 202.5 103.5 203 100 L205.6 103 C206.4 106.5 205.4 110 203.8 113 C201.5 111.5 199.8 109 198.8 106.2 Z" fill="#2a2a2a"/>
<path d="M128.3 113.8 C130 107.5 135 102 141.5 98.5 L146 97 C142.5 100.5 139.8 104.2 137.8 108.2 C136.3 110.8 134 112.6 130.8 113.6 Z" fill="#dddddd"/>
<ellipse cx="109.5" cy="126.2" rx="8" ry="6" fill="#111112" transform="rotate(-8 109.5 126.2)"/>
<ellipse cx="111" cy="123.5" rx="3.5" ry="1.5" fill="#4a4a4c" opacity=".8"/>
<ellipse cx="149" cy="110.6" rx="3.2" ry="2.2" fill="#1c1c1c"/><circle cx="148.6" cy="110.6" r="1.5" fill="#6e9fd0"/>
<path d="M306 277 C309 270.5 318 268.5 324.5 270 C327 272 325.5 277 321 280.5 C315.5 283.5 309.5 283.5 307 281.5 Z" fill="#4e4446"/>
<path d="M310 276.5 C313.5 273 319 272 322.5 273" stroke="#6c6266" stroke-width="1.4" fill="none" opacity=".6"/>
<g stroke="#5cb531" stroke-width="2" fill="none">
<path d="M246.3 144.8 L370.4 205.6"/>
<path d="M251.6 136.0 L241.0 153.0"/>
<path d="M375.7 196.8 L365.1 214.2"/>
</g>
<path d="M161.3 181.8 C160.4 183.0 157.3 186.3 156.0 189.0 C154.7 191.7 153.2 195.1 153.2 198.0 C153.2 200.9 153.9 204.1 156.0 206.5 C158.1 208.9 162.0 211.2 165.5 212.5 C169.0 213.8 173.4 213.9 177.0 214.0 C180.6 214.1 183.3 214.0 187.0 213.0 C190.7 212.0 195.0 210.1 199.0 208.0 C203.0 205.9 206.8 203.5 211.0 200.5 C215.2 197.5 219.9 193.5 224.0 190.0 C228.1 186.5 232.8 182.8 235.5 179.5 C238.2 176.2 239.5 172.9 240.5 170.0 C241.5 167.1 241.8 164.4 241.6 162.0 C241.4 159.6 240.7 157.2 239.5 155.5 C238.3 153.8 236.8 152.5 234.5 151.5 C232.2 150.5 227.4 149.9 226.0 149.6" stroke="#5cb531" stroke-width="2.6" fill="none" stroke-dasharray="3.4 2.3"/>
<path d="M273.5 190.5 C274.4 190.1 276.9 188.4 279.0 188.0 C281.1 187.6 283.7 187.2 286.0 187.8 C288.3 188.4 290.8 189.6 293.0 191.5 C295.2 193.4 297.4 196.1 299.5 199.5 C301.6 202.9 303.8 207.6 305.5 212.0 C307.2 216.4 308.9 221.3 310.0 226.0 C311.1 230.7 312.0 235.3 312.3 240.0 C312.6 244.7 312.6 249.3 312.0 254.0 C311.4 258.7 310.2 263.7 308.5 268.0 C306.8 272.3 304.4 276.8 302.0 280.0 C299.6 283.2 296.8 285.7 294.0 287.5 C291.2 289.3 288.1 290.5 285.0 290.8 C281.9 291.1 277.0 289.7 275.4 289.5" stroke="#5cb531" stroke-width="2.6" fill="none" stroke-dasharray="3.4 2.3"/>
<text transform="translate(257.4 124.2) rotate(24.6)" font-family="Liberation Sans, sans-serif" font-weight="bold" font-size="21.2" fill="#0a0a0a" textLength="144" lengthAdjust="spacingAndGlyphs">Body Length</text>
<circle cx="952.5" cy="227.3" r="134.2" fill="#ffffff" stroke="#d8c9a3" stroke-width="5"/>
<clipPath id="insclip"><circle cx="952.5" cy="227.3" r="131.9"/></clipPath>
<g clip-path="url(#insclip)">
<path d="M840.0 150.0 C840.3 149.0 846.2 146.9 850.1 144.2 C854.0 141.5 860.8 135.9 866.0 132.0 C871.2 128.1 879.6 121.9 885.0 118.0 C890.4 114.1 898.0 108.5 902.0 106.0 C906.0 103.5 909.3 100.9 912.0 101.5 C914.7 102.1 917.5 106.7 920.0 110.0 C922.5 113.3 926.0 120.1 928.4 123.7 C930.8 127.3 933.7 131.3 936.0 134.0 C938.3 136.7 940.2 139.4 943.8 141.7 C947.4 143.9 954.6 147.1 960.0 149.0 C965.4 150.9 973.8 153.2 979.8 154.5 C985.8 155.8 994.2 156.9 1000.0 157.5 C1005.8 158.1 1012.3 158.4 1018.3 158.5 C1024.3 158.6 1033.4 158.2 1040.0 158.0 C1046.6 157.8 1053.0 157.4 1062.0 157.1 C1071.0 156.8 1094.3 141.8 1100.0 156.0 C1105.7 170.2 1103.4 237.6 1100.0 252.0 C1096.6 266.4 1083.9 251.7 1077.4 252.1 C1070.9 252.5 1061.9 254.0 1056.9 254.7 C1051.9 255.4 1047.9 256.2 1044.0 257.0 C1040.1 257.8 1035.1 258.6 1031.2 259.8 C1027.3 261.0 1021.9 263.5 1018.0 265.0 C1014.1 266.5 1009.4 269.0 1005.5 270.1 C1001.6 271.2 995.9 271.9 992.0 272.5 C988.1 273.1 983.4 273.4 979.8 273.9 C976.2 274.3 971.1 274.9 968.0 275.5 C964.9 276.1 960.3 275.1 959.0 278.0 C957.7 280.9 959.3 290.0 959.3 295.0 C959.3 300.0 959.3 305.2 959.3 311.2 C959.3 317.2 959.3 327.9 959.3 335.0 C959.3 342.1 959.3 352.7 959.3 358.7 C959.3 364.7 965.5 372.6 959.5 375.0 C953.5 377.4 925.0 377.8 919.0 375.0 C913.0 372.2 919.6 361.4 919.4 356.1 C919.2 350.9 918.1 344.8 917.5 340.0 C916.9 335.2 916.0 328.4 915.6 324.0 C915.2 319.6 915.2 314.9 914.8 311.0 C914.4 307.1 913.9 302.1 913.0 298.3 C912.1 294.6 910.0 289.5 908.5 286.0 C907.0 282.5 904.7 278.9 902.7 275.2 C900.7 271.4 897.1 264.9 895.0 261.0 C892.9 257.1 890.0 252.3 888.5 249.0 C887.0 245.7 885.6 243.1 884.8 239.3 C884.0 235.6 883.4 228.6 883.0 224.0 C882.6 219.4 882.7 212.8 882.2 208.4 C881.8 204.1 880.8 198.9 880.0 195.0 C879.2 191.1 878.2 186.9 877.1 182.7 C876.0 178.5 874.0 171.1 872.5 167.0 C871.0 162.9 869.0 158.0 866.8 155.5 C864.6 153.0 860.8 151.2 858.0 150.5 C855.2 149.8 850.7 151.1 848.0 151.0 C845.3 150.9 839.7 151.0 840.0 150.0 Z" fill="#4a4845"/>
<clipPath id="insdog"><path d="M840.0 150.0 C840.3 149.0 846.2 146.9 850.1 144.2 C854.0 141.5 860.8 135.9 866.0 132.0 C871.2 128.1 879.6 121.9 885.0 118.0 C890.4 114.1 898.0 108.5 902.0 106.0 C906.0 103.5 909.3 100.9 912.0 101.5 C914.7 102.1 917.5 106.7 920.0 110.0 C922.5 113.3 926.0 120.1 928.4 123.7 C930.8 127.3 933.7 131.3 936.0 134.0 C938.3 136.7 940.2 139.4 943.8 141.7 C947.4 143.9 954.6 147.1 960.0 149.0 C965.4 150.9 973.8 153.2 979.8 154.5 C985.8 155.8 994.2 156.9 1000.0 157.5 C1005.8 158.1 1012.3 158.4 1018.3 158.5 C1024.3 158.6 1033.4 158.2 1040.0 158.0 C1046.6 157.8 1053.0 157.4 1062.0 157.1 C1071.0 156.8 1094.3 141.8 1100.0 156.0 C1105.7 170.2 1103.4 237.6 1100.0 252.0 C1096.6 266.4 1083.9 251.7 1077.4 252.1 C1070.9 252.5 1061.9 254.0 1056.9 254.7 C1051.9 255.4 1047.9 256.2 1044.0 257.0 C1040.1 257.8 1035.1 258.6 1031.2 259.8 C1027.3 261.0 1021.9 263.5 1018.0 265.0 C1014.1 266.5 1009.4 269.0 1005.5 270.1 C1001.6 271.2 995.9 271.9 992.0 272.5 C988.1 273.1 983.4 273.4 979.8 273.9 C976.2 274.3 971.1 274.9 968.0 275.5 C964.9 276.1 960.3 275.1 959.0 278.0 C957.7 280.9 959.3 290.0 959.3 295.0 C959.3 300.0 959.3 305.2 959.3 311.2 C959.3 317.2 959.3 327.9 959.3 335.0 C959.3 342.1 959.3 352.7 959.3 358.7 C959.3 364.7 965.5 372.6 959.5 375.0 C953.5 377.4 925.0 377.8 919.0 375.0 C913.0 372.2 919.6 361.4 919.4 356.1 C919.2 350.9 918.1 344.8 917.5 340.0 C916.9 335.2 916.0 328.4 915.6 324.0 C915.2 319.6 915.2 314.9 914.8 311.0 C914.4 307.1 913.9 302.1 913.0 298.3 C912.1 294.6 910.0 289.5 908.5 286.0 C907.0 282.5 904.7 278.9 902.7 275.2 C900.7 271.4 897.1 264.9 895.0 261.0 C892.9 257.1 890.0 252.3 888.5 249.0 C887.0 245.7 885.6 243.1 884.8 239.3 C884.0 235.6 883.4 228.6 883.0 224.0 C882.6 219.4 882.7 212.8 882.2 208.4 C881.8 204.1 880.8 198.9 880.0 195.0 C879.2 191.1 878.2 186.9 877.1 182.7 C876.0 178.5 874.0 171.1 872.5 167.0 C871.0 162.9 869.0 158.0 866.8 155.5 C864.6 153.0 860.8 151.2 858.0 150.5 C855.2 149.8 850.7 151.1 848.0 151.0 C845.3 150.9 839.7 151.0 840.0 150.0 Z"/></clipPath>
<g clip-path="url(#insdog)">
<rect x="815" y="90" width="280" height="280" filter="url(#fur)" opacity=".4"/>
<path d="M945 281 C952 278 958 277 962 277 L961 380 L949 380 C951 350 951 310 945 281 Z" fill="#050505"/>
<path d="M958 279 C985 275 1010 270 1032 261 C1050 256 1075 253 1100 252 L1100 243 C1070 244 1040 248 1020 256 C1000 263 975 266 956 268 Z" fill="#0e0e0e" opacity=".9" filter="url(#blur2)"/>
<ellipse cx="945" cy="185" rx="52" ry="20" fill="#666460" opacity=".55" filter="url(#blur6)" transform="rotate(28 945 185)"/>
<ellipse cx="1020" cy="200" rx="55" ry="22" fill="#5f5d59" opacity=".5" filter="url(#blur6)" transform="rotate(8 1020 200)"/>
<ellipse cx="900" cy="150" rx="18" ry="34" fill="#5a5a5b" opacity=".5" filter="url(#blur6)" transform="rotate(-50 900 150)"/>
<path d="M930 285 C934 310 936 340 936 372" stroke="#626263" stroke-width="9" fill="none" opacity=".55" filter="url(#blur4)"/>
<path d="M890 205 C898 240 915 268 935 282" stroke="#3a3a3b" stroke-width="10" fill="none" opacity=".5" filter="url(#blur4)"/>
</g>
<g stroke="#5cb531" stroke-width="2.4" fill="none">
<path d="M858.2 242 C861 255 868 268 883 282.3 C891 289 900 294 911.5 297.5"/>
<path d="M959.5 307.2 C968 308.2 977 308.5 986 308.6"/>
<path d="M845 226.6 L869 204.4"/>
<path d="M1013.9 299.4 C1015 308 1018 316.5 1023.5 324.4"/>
</g>
<path d="M859 214.5 C861.5 222 864 229 866 235.2 L858.6 243.5 L852 250.8 C855 238 857.5 226 859 214.5 Z" fill="#5cb531"/>
<path d="M984 301 L1015 311.3 L984 315.9 Z" fill="#5cb531"/>
</g>
<circle cx="212.3" cy="998.4" r="144.3" fill="#e5a062"/>
<clipPath id="pjclip"><circle cx="212.3" cy="998.4" r="144.3"/></clipPath>
<g clip-path="url(#pjclip)">
<path d="M96.0 968.0 L110.0 968.8 L140.0 967.8 L180.0 968.3 L220.0 967.8 L260.0 968.3 L300.0 967.8 L319.9 968.3 L326.0 985.0 L334.9 1009.4 L341.0 1030.0 L345.9 1050.5 L352.0 1075.0 L360.0 1110.0 L360.0 1150.0 L282.0 1150.0 L278.8 1124.5 L274.0 1100.0 L269.2 1077.9 L266.4 1052.0 L240.0 1050.5 L214.0 1050.0 L187.0 1050.5 L186.5 1061.4 L185.5 1090.0 L184.2 1113.0 L184.2 1130.0 L170.0 1135.0 L154.1 1125.0 L140.0 1122.0 L115.8 1110.0 L114.0 1080.0 L115.8 1047.7 L106.0 1040.0 L99.0 1025.0 L94.0 1008.0 L91.0 997.0 Z" fill="#a13296"/>
<clipPath id="suitclip"><path d="M96.0 968.0 L110.0 968.8 L140.0 967.8 L180.0 968.3 L220.0 967.8 L260.0 968.3 L300.0 967.8 L319.9 968.3 L326.0 985.0 L334.9 1009.4 L341.0 1030.0 L345.9 1050.5 L352.0 1075.0 L360.0 1110.0 L360.0 1150.0 L282.0 1150.0 L278.8 1124.5 L274.0 1100.0 L269.2 1077.9 L266.4 1052.0 L240.0 1050.5 L214.0 1050.0 L187.0 1050.5 L186.5 1061.4 L185.5 1090.0 L184.2 1113.0 L184.2 1130.0 L170.0 1135.0 L154.1 1125.0 L140.0 1122.0 L115.8 1110.0 L114.0 1080.0 L115.8 1047.7 L106.0 1040.0 L99.0 1025.0 L94.0 1008.0 L91.0 997.0 Z"/></clipPath>
<g clip-path="url(#suitclip)">
<path d="M96 1048 C150 1056 240 1046 330 1048 L342 1060 L100 1062 Z" fill="#5e1858" opacity=".35" filter="url(#blur4)"/>
<path d="M316 968 C324 1000 338 1040 354 1100 L372 1100 L338 968 Z" fill="#5e1858" opacity=".55" filter="url(#blur2)"/>
<path d="M178 1058 C172 1085 170 1105 160 1126" stroke="#6a1c62" stroke-width="5" fill="none" opacity=".5" filter="url(#blur2)"/>
<path d="M300 1040 C298 1060 300 1090 304 1110" stroke="#6a1c62" stroke-width="6" fill="none" opacity=".4" filter="url(#blur2)"/>
<path d="M3 0 L24 0 C25.5 2 25.5 6 24 8.5 L17.5 9.5 C15.5 11 15 14 15.5 18 L22 19 C23.5 21 23.5 24 22 26 L15.5 26.5 C14.5 29 12.5 31 10.5 32 C10 34.5 8.5 37 6.5 37 C4.5 37 3.5 34.5 3.5 31.5 C1 26 0 18 0.5 10 C0.8 5 1.5 2 3 0 Z" transform="translate(129.5 956.0) scale(0.98)" fill="#f3eaf2"/>
<path d="M3 0 L24 0 C25.5 2 25.5 6 24 8.5 L17.5 9.5 C15.5 11 15 14 15.5 18 L22 19 C23.5 21 23.5 24 22 26 L15.5 26.5 C14.5 29 12.5 31 10.5 32 C10 34.5 8.5 37 6.5 37 C4.5 37 3.5 34.5 3.5 31.5 C1 26 0 18 0.5 10 C0.8 5 1.5 2 3 0 Z" transform="translate(174.7 956.0) scale(0.98)" fill="#f3eaf2"/>
<path d="M3 0 L24 0 C25.5 2 25.5 6 24 8.5 L17.5 9.5 C15.5 11 15 14 15.5 18 L22 19 C23.5 21 23.5 24 22 26 L15.5 26.5 C14.5 29 12.5 31 10.5 32 C10 34.5 8.5 37 6.5 37 C4.5 37 3.5 34.5 3.5 31.5 C1 26 0 18 0.5 10 C0.8 5 1.5 2 3 0 Z" transform="translate(217.0 956.0) scale(0.98)" fill="#f3eaf2"/>
<path d="M3 0 L24 0 C25.5 2 25.5 6 24 8.5 L17.5 9.5 C15.5 11 15 14 15.5 18 L22 19 C23.5 21 23.5 24 22 26 L15.5 26.5 C14.5 29 12.5 31 10.5 32 C10 34.5 8.5 37 6.5 37 C4.5 37 3.5 34.5 3.5 31.5 C1 26 0 18 0.5 10 C0.8 5 1.5 2 3 0 Z" transform="translate(263.7 956.0) scale(0.98)" fill="#f3eaf2"/>
<path d="M3 0 L24 0 C25.5 2 25.5 6 24 8.5 L17.5 9.5 C15.5 11 15 14 15.5 18 L22 19 C23.5 21 23.5 24 22 26 L15.5 26.5 C14.5 29 12.5 31 10.5 32 C10 34.5 8.5 37 6.5 37 C4.5 37 3.5 34.5 3.5 31.5 C1 26 0 18 0.5 10 C0.8 5 1.5 2 3 0 Z" transform="translate(304.8 956.0) scale(0.98)" fill="#f3eaf2"/>
<path d="M3 0 L24 0 C25.5 2 25.5 6 24 8.5 L17.5 9.5 C15.5 11 15 14 15.5 18 L22 19 C23.5 21 23.5 24 22 26 L15.5 26.5 C14.5 29 12.5 31 10.5 32 C10 34.5 8.5 37 6.5 37 C4.5 37 3.5 34.5 3.5 31.5 C1 26 0 18 0.5 10 C0.8 5 1.5 2 3 0 Z" transform="translate(119.9 997.0) scale(1.00)" fill="#f3eaf2"/>
<path d="M3 0 L24 0 C25.5 2 25.5 6 24 8.5 L17.5 9.5 C15.5 11 15 14 15.5 18 L22 19 C23.5 21 23.5 24 22 26 L15.5 26.5 C14.5 29 12.5 31 10.5 32 C10 34.5 8.5 37 6.5 37 C4.5 37 3.5 34.5 3.5 31.5 C1 26 0 18 0.5 10 C0.8 5 1.5 2 3 0 Z" transform="translate(167.8 1005.5) scale(1.00)" fill="#f3eaf2"/>
<path d="M3 0 L24 0 C25.5 2 25.5 6 24 8.5 L17.5 9.5 C15.5 11 15 14 15.5 18 L22 19 C23.5 21 23.5 24 22 26 L15.5 26.5 C14.5 29 12.5 31 10.5 32 C10 34.5 8.5 37 6.5 37 C4.5 37 3.5 34.5 3.5 31.5 C1 26 0 18 0.5 10 C0.8 5 1.5 2 3 0 Z" transform="translate(211.6 1003.0) scale(1.00)" fill="#f3eaf2"/>
<path d="M3 0 L24 0 C25.5 2 25.5 6 24 8.5 L17.5 9.5 C15.5 11 15 14 15.5 18 L22 19 C23.5 21 23.5 24 22 26 L15.5 26.5 C14.5 29 12.5 31 10.5 32 C10 34.5 8.5 37 6.5 37 C4.5 37 3.5 34.5 3.5 31.5 C1 26 0 18 0.5 10 C0.8 5 1.5 2 3 0 Z" transform="translate(259.6 1011.5) scale(1.00)" fill="#f3eaf2"/>
<path d="M3 0 L24 0 C25.5 2 25.5 6 24 8.5 L17.5 9.5 C15.5 11 15 14 15.5 18 L22 19 C23.5 21 23.5 24 22 26 L15.5 26.5 C14.5 29 12.5 31 10.5 32 C10 34.5 8.5 37 6.5 37 C4.5 37 3.5 34.5 3.5 31.5 C1 26 0 18 0.5 10 C0.8 5 1.5 2 3 0 Z" transform="translate(303.4 1003.0) scale(1.00)" fill="#f3eaf2"/>
<path d="M3 0 L24 0 C25.5 2 25.5 6 24 8.5 L17.5 9.5 C15.5 11 15 14 15.5 18 L22 19 C23.5 21 23.5 24 22 26 L15.5 26.5 C14.5 29 12.5 31 10.5 32 C10 34.5 8.5 37 6.5 37 C4.5 37 3.5 34.5 3.5 31.5 C1 26 0 18 0.5 10 C0.8 5 1.5 2 3 0 Z" transform="translate(84.0 1000.0) scale(0.70)" fill="#f3eaf2"/>
<path d="M3 0 L24 0 C25.5 2 25.5 6 24 8.5 L17.5 9.5 C15.5 11 15 14 15.5 18 L22 19 C23.5 21 23.5 24 22 26 L15.5 26.5 C14.5 29 12.5 31 10.5 32 C10 34.5 8.5 37 6.5 37 C4.5 37 3.5 34.5 3.5 31.5 C1 26 0 18 0.5 10 C0.8 5 1.5 2 3 0 Z" transform="translate(87.0 1016.0) scale(0.60)" fill="#f3eaf2"/>
<path d="M3 0 L24 0 C25.5 2 25.5 6 24 8.5 L17.5 9.5 C15.5 11 15 14 15.5 18 L22 19 C23.5 21 23.5 24 22 26 L15.5 26.5 C14.5 29 12.5 31 10.5 32 C10 34.5 8.5 37 6.5 37 C4.5 37 3.5 34.5 3.5 31.5 C1 26 0 18 0.5 10 C0.8 5 1.5 2 3 0 Z" transform="translate(114.0 1044.0) scale(0.95)" fill="#f3eaf2"/>
<path d="M0 7 C0.5 4.5 3 3.5 6 3.5 C10 1 18 0 27 0.5 C35 0.5 42 2 44.5 6 C46.5 9 46 13 45 18 L39.5 18.5 L39 12.5 C37 14 34 14.5 31.5 14 L30.5 18.5 L25 18.5 L25.5 12 C21 13 16 13 13.5 12 L13 18.5 L7.5 18.5 L8 11 C5 11 1.5 10 0 7 Z" transform="translate(116.0 1043.0) scale(0.50 1.00)" fill="#f3eaf2"/>
<path d="M0 7 C0.5 4.5 3 3.5 6 3.5 C10 1 18 0 27 0.5 C35 0.5 42 2 44.5 6 C46.5 9 46 13 45 18 L39.5 18.5 L39 12.5 C37 14 34 14.5 31.5 14 L30.5 18.5 L25 18.5 L25.5 12 C21 13 16 13 13.5 12 L13 18.5 L7.5 18.5 L8 11 C5 11 1.5 10 0 7 Z" transform="translate(135.0 1052.0) scale(1.00 1.05)" fill="#f3eaf2"/>
<path d="M0 7 C0.5 4.5 3 3.5 6 3.5 C10 1 18 0 27 0.5 C35 0.5 42 2 44.5 6 C46.5 9 46 13 45 18 L39.5 18.5 L39 12.5 C37 14 34 14.5 31.5 14 L30.5 18.5 L25 18.5 L25.5 12 C21 13 16 13 13.5 12 L13 18.5 L7.5 18.5 L8 11 C5 11 1.5 10 0 7 Z" transform="translate(132.0 1095.0) scale(1.12 1.25)" fill="#f3eaf2"/>
<path d="M3 0 L24 0 C25.5 2 25.5 6 24 8.5 L17.5 9.5 C15.5 11 15 14 15.5 18 L22 19 C23.5 21 23.5 24 22 26 L15.5 26.5 C14.5 29 12.5 31 10.5 32 C10 34.5 8.5 37 6.5 37 C4.5 37 3.5 34.5 3.5 31.5 C1 26 0 18 0.5 10 C0.8 5 1.5 2 3 0 Z" transform="translate(113.0 1060.0) scale(0.75)" fill="#f3eaf2"/>
<path d="M0 7 C0.5 4.5 3 3.5 6 3.5 C10 1 18 0 27 0.5 C35 0.5 42 2 44.5 6 C46.5 9 46 13 45 18 L39.5 18.5 L39 12.5 C37 14 34 14.5 31.5 14 L30.5 18.5 L25 18.5 L25.5 12 C21 13 16 13 13.5 12 L13 18.5 L7.5 18.5 L8 11 C5 11 1.5 10 0 7 Z" transform="translate(277.0 1043.0) scale(0.66 1.25)" fill="#f3eaf2"/>
<path d="M3 0 L24 0 C25.5 2 25.5 6 24 8.5 L17.5 9.5 C15.5 11 15 14 15.5 18 L22 19 C23.5 21 23.5 24 22 26 L15.5 26.5 C14.5 29 12.5 31 10.5 32 C10 34.5 8.5 37 6.5 37 C4.5 37 3.5 34.5 3.5 31.5 C1 26 0 18 0.5 10 C0.8 5 1.5 2 3 0 Z" transform="translate(268.0 1078.0) scale(0.55)" fill="#f3eaf2"/>
<path d="M3 0 L24 0 C25.5 2 25.5 6 24 8.5 L17.5 9.5 C15.5 11 15 14 15.5 18 L22 19 C23.5 21 23.5 24 22 26 L15.5 26.5 C14.5 29 12.5 31 10.5 32 C10 34.5 8.5 37 6.5 37 C4.5 37 3.5 34.5 3.5 31.5 C1 26 0 18 0.5 10 C0.8 5 1.5 2 3 0 Z" transform="translate(309.0 1068.0) scale(0.80)" fill="#f3eaf2"/>
<path d="M3 0 L24 0 C25.5 2 25.5 6 24 8.5 L17.5 9.5 C15.5 11 15 14 15.5 18 L22 19 C23.5 21 23.5 24 22 26 L15.5 26.5 C14.5 29 12.5 31 10.5 32 C10 34.5 8.5 37 6.5 37 C4.5 37 3.5 34.5 3.5 31.5 C1 26 0 18 0.5 10 C0.8 5 1.5 2 3 0 Z" transform="translate(326.5 1040.0) scale(0.80)" fill="#f3eaf2"/>
<path d="M112.2 974.0 L117.8 974.0 M113.0 972.0 L117.0 976.0 M115.0 971.2 L115.0 976.8 M117.0 972.0 L113.0 976.0 " stroke="#ecd0ea" stroke-width=".8" fill="none"/>
<path d="M105.2 996.0 L110.8 996.0 M106.0 994.0 L110.0 998.0 M108.0 993.2 L108.0 998.8 M110.0 994.0 L106.0 998.0 " stroke="#ecd0ea" stroke-width=".8" fill="none"/>
<path d="M153.2 985.5 L158.8 985.5 M154.0 983.5 L158.0 987.5 M156.0 982.7 L156.0 988.3 M158.0 983.5 L154.0 987.5 " stroke="#ecd0ea" stroke-width=".8" fill="none"/>
<path d="M203.2 982.0 L208.8 982.0 M204.0 980.0 L208.0 984.0 M206.0 979.2 L206.0 984.8 M208.0 980.0 L204.0 984.0 " stroke="#ecd0ea" stroke-width=".8" fill="none"/>
<path d="M243.2 1000.0 L248.8 1000.0 M244.0 998.0 L248.0 1002.0 M246.0 997.2 L246.0 1002.8 M248.0 998.0 L244.0 1002.0 " stroke="#ecd0ea" stroke-width=".8" fill="none"/>
<path d="M289.2 988.5 L294.8 988.5 M290.0 986.5 L294.0 990.5 M292.0 985.7 L292.0 991.3 M294.0 986.5 L290.0 990.5 " stroke="#ecd0ea" stroke-width=".8" fill="none"/>
<path d="M140.2 1037.0 L145.8 1037.0 M141.0 1035.0 L145.0 1039.0 M143.0 1034.2 L143.0 1039.8 M145.0 1035.0 L141.0 1039.0 " stroke="#ecd0ea" stroke-width=".8" fill="none"/>
<path d="M167.2 1028.0 L172.8 1028.0 M168.0 1026.0 L172.0 1030.0 M170.0 1025.2 L170.0 1030.8 M172.0 1026.0 L168.0 1030.0 " stroke="#ecd0ea" stroke-width=".8" fill="none"/>
<path d="M156.2 1047.5 L161.8 1047.5 M157.0 1045.5 L161.0 1049.5 M159.0 1044.7 L159.0 1050.3 M161.0 1045.5 L157.0 1049.5 " stroke="#ecd0ea" stroke-width=".8" fill="none"/>
<path d="M195.2 1005.5 L200.8 1005.5 M196.0 1003.5 L200.0 1007.5 M198.0 1002.7 L198.0 1008.3 M200.0 1003.5 L196.0 1007.5 " stroke="#ecd0ea" stroke-width=".8" fill="none"/>
<path d="M219.2 1034.0 L224.8 1034.0 M220.0 1032.0 L224.0 1036.0 M222.0 1031.2 L222.0 1036.8 M224.0 1032.0 L220.0 1036.0 " stroke="#ecd0ea" stroke-width=".8" fill="none"/>
<path d="M233.2 1041.0 L238.8 1041.0 M234.0 1039.0 L238.0 1043.0 M236.0 1038.2 L236.0 1043.8 M238.0 1039.0 L234.0 1043.0 " stroke="#ecd0ea" stroke-width=".8" fill="none"/>
<path d="M287.2 1010.0 L292.8 1010.0 M288.0 1008.0 L292.0 1012.0 M290.0 1007.2 L290.0 1012.8 M292.0 1008.0 L288.0 1012.0 " stroke="#ecd0ea" stroke-width=".8" fill="none"/>
<path d="M259.2 1008.0 L264.8 1008.0 M260.0 1006.0 L264.0 1010.0 M262.0 1005.2 L262.0 1010.8 M264.0 1006.0 L260.0 1010.0 " stroke="#ecd0ea" stroke-width=".8" fill="none"/>
<path d="M201.2 991.0 L206.8 991.0 M202.0 989.0 L206.0 993.0 M204.0 988.2 L204.0 993.8 M206.0 989.0 L202.0 993.0 " stroke="#ecd0ea" stroke-width=".8" fill="none"/>
<path d="M129.2 1075.0 L134.8 1075.0 M130.0 1073.0 L134.0 1077.0 M132.0 1072.2 L132.0 1077.8 M134.0 1073.0 L130.0 1077.0 " stroke="#ecd0ea" stroke-width=".8" fill="none"/>
<path d="M121.2 1097.0 L126.8 1097.0 M122.0 1095.0 L126.0 1099.0 M124.0 1094.2 L124.0 1099.8 M126.0 1095.0 L122.0 1099.0 " stroke="#ecd0ea" stroke-width=".8" fill="none"/>
<path d="M317.2 1060.0 L322.8 1060.0 M318.0 1058.0 L322.0 1062.0 M320.0 1057.2 L320.0 1062.8 M322.0 1058.0 L318.0 1062.0 " stroke="#ecd0ea" stroke-width=".8" fill="none"/>
<path d="M289.2 1079.0 L294.8 1079.0 M290.0 1077.0 L294.0 1081.0 M292.0 1076.2 L292.0 1081.8 M294.0 1077.0 L290.0 1081.0 " stroke="#ecd0ea" stroke-width=".8" fill="none"/>
<path d="M295.2 1106.0 L300.8 1106.0 M296.0 1104.0 L300.0 1108.0 M298.0 1103.2 L298.0 1108.8 M300.0 1104.0 L296.0 1108.0 " stroke="#ecd0ea" stroke-width=".8" fill="none"/>
<path d="M297.2 1035.0 L302.8 1035.0 M298.0 1033.0 L302.0 1037.0 M300.0 1032.2 L300.0 1037.8 M302.0 1033.0 L298.0 1037.0 " stroke="#ecd0ea" stroke-width=".8" fill="none"/>
</g>
<path d="M89.7 966.5 L103 968.8 C101 979 97 990 91 998.5 L73.3 990.5 C80 984 86 975 89.7 966.5 Z" fill="#d6aee0"/>
<path d="M96.5 968 C94 978 89.5 988 83.5 995" stroke="#6a1a5e" stroke-width="2.4" fill="none"/>
<path d="M153 1119 L185 1111 L186 1130 L158 1139 Z" fill="#d6aee0"/>
<path d="M155 1128 L185.5 1119.5" stroke="#6a1a5e" stroke-width="2.2"/>
<path d="M277 1113 L320 1100 L324 1110 L280 1125 Z" fill="#d6aee0"/>
</g>
<g stroke="#0a0a0a" stroke-width="2" fill="none"><path d="M107.5 944.2 L315.8 944.2 M108.4 931.3 L108.4 957.3 M314.9 931.3 L314.9 957.3"/></g>
<g font-family="Liberation Sans, sans-serif"><text transform="translate(248.07 507.30) scale(1.0613 1)" font-size="31.86" style="font-weight:bold;fill:#b85a2a;">Medium</text>
<text transform="translate(452.25 505.20) scale(0.9798 1)" font-size="31.43" style="font-weight:bold;fill:#b85a2a;">Large</text>
<text transform="translate(660.30 507.30) scale(0.9171 1)" font-size="31.14" style="font-weight:bold;fill:#b85a2a;">XL</text>
<text transform="translate(834.10 506.90) scale(0.9374 1)" font-size="31.71" style="font-weight:bold;fill:#b85a2a;">XXL</text>
<text transform="translate(1025.99 506.90) scale(0.9636 1)" font-size="31.71" style="font-weight:bold;fill:#b85a2a;">3XL</text>
<text transform="translate(33.72 561.70) scale(0.8834 1)" font-size="31.71" style="font-weight:bold;fill:#b85a2a;">Body Length</text>
<text transform="translate(34.27 616.50) scale(0.8969 1)" font-size="31.43" style="font-weight:bold;fill:#b85a2a;">Chest</text>
<text transform="translate(36.20 665.00) scale(0.9722 1)" font-size="31.71" style="font-weight:bold;fill:#b85a2a;">Weight</text>
<text transform="translate(33.62 716.60) scale(0.9424 1)" font-size="31.43" style="font-weight:bold;fill:#b85a2a;">Underbelly</text>
<text transform="translate(33.62 771.00) scale(0.9432 1)" font-size="31.43" style="font-weight:bold;fill:#b85a2a;">Neck</text>
<text transform="translate(33.66 819.40) scale(0.9305 1)" font-size="31.14" style="font-weight:bold;fill:#b85a2a;">Front Leg</text>
<text transform="translate(261.57 559.30) scale(1.0605 1)" font-size="29.29" style="font-weight:bold;fill:#0a0a0a;">20-23″</text>
<text transform="translate(453.87 559.30) scale(1.0617 1)" font-size="29.29" style="font-weight:bold;fill:#0a0a0a;">23-25″</text>
<text transform="translate(635.37 559.30) scale(1.0617 1)" font-size="29.29" style="font-weight:bold;fill:#0a0a0a;">24-27″</text>
<text transform="translate(826.26 559.30) scale(1.0696 1)" font-size="29.29" style="font-weight:bold;fill:#0a0a0a;">25-30″</text>
<text transform="translate(1013.98 559.30) scale(1.0615 1)" font-size="29.29" style="font-weight:bold;fill:#0a0a0a;">31-36″</text>
<text transform="translate(261.57 615.80) scale(1.0605 1)" font-size="29.29" style="font-weight:bold;fill:#0a0a0a;">24-27″</text>
<text transform="translate(453.87 615.80) scale(1.0617 1)" font-size="29.29" style="font-weight:bold;fill:#0a0a0a;">27-30″</text>
<text transform="translate(635.37 615.80) scale(1.0617 1)" font-size="29.29" style="font-weight:bold;fill:#0a0a0a;">29-34″</text>
<text transform="translate(807.27 615.80) scale(1.0388 1)" font-size="29.29" style="font-weight:bold;fill:#0a0a0a;">up to 36″</text>
<text transform="translate(994.96 615.80) scale(1.0445 1)" font-size="29.29" style="font-weight:bold;fill:#0a0a0a;">up to 39″</text>
<text transform="translate(243.72 666.60) scale(0.9924 1)" font-size="29.29" style="font-weight:bold;fill:#0a0a0a;">30-45LBS</text>
<text transform="translate(424.39 664.90) scale(1.0278 1)" font-size="30.29" style="font-weight:bold;fill:#0a0a0a;">45-60LBS</text>
<text transform="translate(617.32 666.60) scale(0.9969 1)" font-size="29.29" style="font-weight:bold;fill:#0a0a0a;">60-75LBS</text>
<text transform="translate(821.64 666.60) scale(0.9916 1)" font-size="29.29" style="font-weight:bold;fill:#0a0a0a;">75+LBS</text>
<text transform="translate(1008.95 666.60) scale(0.9859 1)" font-size="29.29" style="font-weight:bold;fill:#0a0a0a;">75+LBS</text>
<text transform="translate(285.32 716.30) scale(1.0139 1)" font-size="29.29" style="font-weight:bold;fill:#0a0a0a;">14″</text>
<text transform="translate(476.98 716.30) scale(1.0363 1)" font-size="29.29" style="font-weight:bold;fill:#0a0a0a;">16″</text>
<text transform="translate(659.21 716.30) scale(1.0206 1)" font-size="29.29" style="font-weight:bold;fill:#0a0a0a;">18″</text>
<text transform="translate(849.35 716.30) scale(1.0520 1)" font-size="29.29" style="font-weight:bold;fill:#0a0a0a;">19″</text>
<text transform="translate(1037.61 716.30) scale(1.0185 1)" font-size="29.29" style="font-weight:bold;fill:#0a0a0a;">20″</text>
<text transform="translate(242.50 771.10) scale(1.0252 1)" font-size="29.29" style="font-weight:bold;fill:#0a0a0a;">up to 18″</text>
<text transform="translate(434.17 771.10) scale(1.0412 1)" font-size="29.29" style="font-weight:bold;fill:#0a0a0a;">up to 20″</text>
<text transform="translate(616.37 771.10) scale(1.0412 1)" font-size="29.29" style="font-weight:bold;fill:#0a0a0a;">up to 22″</text>
<text transform="translate(807.27 771.10) scale(1.0388 1)" font-size="29.29" style="font-weight:bold;fill:#0a0a0a;">up to 24″</text>
<text transform="translate(994.96 771.10) scale(1.0445 1)" font-size="29.29" style="font-weight:bold;fill:#0a0a0a;">up to 27″</text>
<text transform="translate(265.73 821.80) scale(1.0762 1)" font-size="26.86" style="font-weight:bold;fill:#0a0a0a;">6 1/2″</text>
<text transform="translate(455.32 821.40) scale(1.0956 1)" font-size="26.86" style="font-weight:bold;fill:#0a0a0a;">7 1/2″</text>
<text transform="translate(669.64 821.80) scale(1.0218 1)" font-size="28.00" style="font-weight:bold;fill:#0a0a0a;">9″</text>
<text transform="translate(849.35 822.30) scale(1.0676 1)" font-size="28.86" style="font-weight:bold;fill:#0a0a0a;">10″</text>
<text transform="translate(1037.75 822.30) scale(1.0676 1)" font-size="28.86" style="font-weight:bold;fill:#0a0a0a;">11″</text>
<text transform="translate(438.51 886.10) scale(0.8106 1)" font-size="24.29" style="font-weight:bold;fill:#0a0a0a;">3XL</text>
<text transform="translate(437.50 931.60) scale(0.7854 1)" font-size="24.29" style="font-weight:bold;fill:#0a0a0a;">XXL</text>
<text transform="translate(451.20 976.80) scale(0.7534 1)" font-size="24.29" style="font-weight:bold;fill:#0a0a0a;">XL</text>
<text transform="translate(419.88 1021.80) scale(0.8401 1)" font-size="24.29" style="font-weight:bold;fill:#0a0a0a;">Large</text>
<text transform="translate(392.37 1067.30) scale(0.9139 1)" font-size="24.29" style="font-weight:bold;fill:#0a0a0a;">Medium</text>
<text transform="translate(479.66 1106.70) scale(0.9355 1)" font-size="22.86" style="font-weight:bold;fill:#0a0a0a;">0″</text>
<text transform="translate(567.78 1106.70) scale(0.9003 1)" font-size="22.86" style="font-weight:bold;fill:#0a0a0a;">5″</text>
<text transform="translate(651.75 1106.70) scale(0.9139 1)" font-size="22.86" style="font-weight:bold;fill:#0a0a0a;">10″</text>
<text transform="translate(741.72 1106.70) scale(0.9340 1)" font-size="22.86" style="font-weight:bold;fill:#0a0a0a;">15″</text>
<text transform="translate(832.46 1106.70) scale(0.9357 1)" font-size="22.86" style="font-weight:bold;fill:#0a0a0a;">20″</text>
<text transform="translate(923.17 1106.70) scale(0.9188 1)" font-size="22.86" style="font-weight:bold;fill:#0a0a0a;">25″</text>
<text transform="translate(1009.68 1106.70) scale(0.9213 1)" font-size="22.86" style="font-weight:bold;fill:#0a0a0a;">30″</text>
<text transform="translate(1095.27 1106.70) scale(0.9409 1)" font-size="22.86" style="font-weight:bold;fill:#0a0a0a;">35″</text>
<text transform="translate(1042.80 893.00) scale(1.1087 1)" font-size="27.14" style="font-weight:normal;fill:#d8121b;stroke:#d8121b;stroke-width:0.7px;">31″</text>
<text transform="translate(937.83 939.20) scale(1.1276 1)" font-size="24.29" style="font-weight:normal;fill:#d8121b;stroke:#d8121b;stroke-width:0.6px;">25″</text>
<text transform="translate(923.59 982.00) scale(1.1021 1)" font-size="22.00" style="font-weight:normal;fill:#d8121b;stroke:#d8121b;stroke-width:0.5px;">24″</text>
<text transform="translate(904.82 1028.90) scale(1.0762 1)" font-size="22.00" style="font-weight:normal;fill:#d8121b;stroke:#d8121b;stroke-width:0.5px;">23″</text>
<text transform="translate(852.54 1072.50) scale(1.0858 1)" font-size="19.57" style="font-weight:normal;fill:#d8121b;stroke:#d8121b;stroke-width:0.4px;">20″</text>
<text transform="translate(529.26 1144.40) scale(0.9771 1)" font-size="24.57" style="font-weight:bold;fill:#2a1810;">Body Length</text>
<text transform="translate(694.04 1144.40) scale(0.9805 1)" font-size="24.57" style="font-weight:bold;fill:#2a1810;">(Size Difference Compare Chart)</text>
<text transform="translate(453.52 201.60) scale(0.9655 1)" font-size="28.26" style="font-weight:normal;fill:#d8121b;">NOTE:</text>
<text transform="translate(451.20 231.80) scale(1.0166 1)" font-size="24.64" style="font-weight:normal;fill:#0a0a0a;">All measurements use inches</text>
<text transform="translate(450.16 260.90) scale(1.0535 1)" font-size="24.64" style="font-weight:normal;fill:#0a0a0a;">and measure the body length.</text>
<text transform="translate(450.69 290.00) scale(1.0445 1)" font-size="24.64" style="font-weight:normal;fill:#0a0a0a;">The minimum and maximum are</text>
<text transform="translate(450.94 319.80) scale(1.0425 1)" font-size="24.64" style="font-weight:normal;fill:#0a0a0a;">the Length before and after</text>
<text transform="translate(450.94 348.90) scale(1.0457 1)" font-size="24.64" style="font-weight:normal;fill:#0a0a0a;">the pull up respectively.</text>
<text transform="translate(85.86 208.70) scale(1.1019 1)" font-size="23.29" style="font-weight:bold;fill:#0a0a0a;">Neck</text>
<text transform="translate(312.26 415.80) scale(1.0183 1)" font-size="20.57" style="font-weight:bold;fill:#0a0a0a;">Chest</text>
<text transform="translate(263.41 437.50) scale(1.0651 1)" font-size="20.86" style="font-weight:bold;fill:#0a0a0a;">Circumference</text>
<text transform="translate(888.45 384.60) scale(1.0920 1)" font-size="21.16" style="font-weight:normal;fill:#d8121b;">For Boys only:</text>
<text transform="translate(845.66 413.10) scale(1.0536 1)" font-size="21.14" style="font-weight:bold;fill:#0a0a0a;">From bottom of color area</text>
<text transform="translate(923.55 438.60) scale(1.0581 1)" font-size="21.14" style="font-weight:bold;fill:#0a0a0a;">along chest</text>
<text transform="translate(127.69 924.50) scale(0.9950 1)" font-size="30.29" style="font-weight:bold;fill:#0a0a0a;">body length</text></g>
</svg>
</body></html>
